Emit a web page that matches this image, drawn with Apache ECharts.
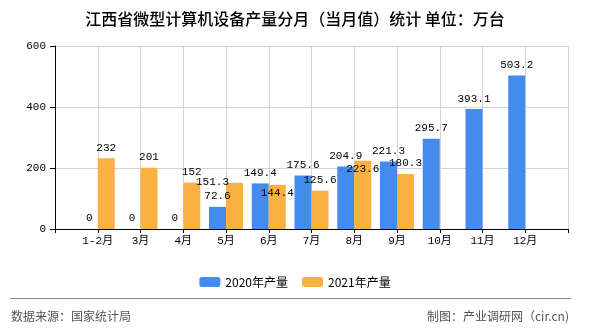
<!DOCTYPE html>
<html>
<head>
<meta charset="utf-8">
<script src="https://cdn.jsdelivr.net/npm/echarts@6/dist/echarts.min.js"></script>
<style>
html,body{margin:0;padding:0;background:#fff;}
#c{width:590px;height:330px;}
</style>
</head>
<body>
<div id="c"></div>
<script>
const titleText = '江西省微型计算机设备产量分月（当月值）统计 单位：万台';
const categories = ['1-2月','3月','4月','5月','6月','7月','8月','9月','10月','11月','12月'];
const series2020 = [0, 0, 0, 72.6, 149.4, 175.6, 204.9, 221.3, 295.7, 393.1, 503.2];
const series2021 = [232, 201, 152, 151.3, 144.4, 125.6, 223.6, 180.3, null, null, null];
const seriesNames = ['2020年产量', '2021年产量'];
const yTicks = [0, 200, 400, 600];
// label style tweaks (which labels were nudged in the original), kept apart from the data
const labelNudge2021 = {'5月': [-22, 10], '6月': [0, 19], '8月': [0, 19]};

const monoFont = '"Liberation Mono", "Noto Sans CJK SC", monospace';
const axisData = [''].concat(categories, ['']);
function pad(arr){ return [null].concat(arr, [null]); }
function build(arr, nudge){
  const p = pad(arr);
  return p.map((v, i) => {
    if (v === null) return {value: null, label: {show: false}};
    const cat = axisData[i];
    const item = {value: v};
    if (nudge && nudge[cat]) item.label = {offset: nudge[cat]};
    return item;
  });
}

const chart = echarts.init(document.getElementById('c'), null, {renderer: 'canvas'});
const labelCommon = {
  show: true, position: 'top', distance: 5,
  color: '#000', fontSize: 11, fontFamily: monoFont
};
chart.setOption({
  animation: false,
  backgroundColor: '#fff',
  title: {
    text: titleText, left: 'center', top: 6,
    textStyle: {fontSize: 16, fontWeight: 500, color: '#000', fontFamily: '"Noto Sans CJK SC", sans-serif'}
  },
  legend: {
    data: seriesNames, left: 'center', top: 271,
    itemWidth: 21, itemHeight: 10, itemGap: 14,
    textStyle: {fontSize: 12, color: '#000', fontFamily: '"Noto Sans CJK SC", sans-serif'}
  },
  grid: {left: 55, right: 22, top: 46, bottom: 101, containLabel: false},
  xAxis: {
    type: 'category', data: axisData, boundaryGap: false,
    axisLine: {lineStyle: {color: '#000', width: 1}},
    axisTick: {show: true, interval: 0, length: 4, lineStyle: {color: '#000'}},
    axisLabel: {interval: 0, color: '#000', fontSize: 11, margin: 7, fontFamily: monoFont},
    splitLine: {show: true, interval: 0, lineStyle: {color: '#d4d4d4', width: 1}}
  },
  yAxis: {
    type: 'value', min: yTicks[0], max: yTicks[yTicks.length - 1], interval: 200,
    axisLine: {show: true, lineStyle: {color: '#000', width: 1}},
    axisTick: {show: true, length: 5, lineStyle: {color: '#000'}},
    axisLabel: {color: '#000', fontSize: 11, margin: 9, fontFamily: monoFont},
    splitLine: {show: true, lineStyle: {color: '#d4d4d4', width: 1}}
  },
  series: [
    {
      name: seriesNames[0], type: 'bar', barWidth: 17, barGap: '0%',
      itemStyle: {color: '#448bee'},
      label: labelCommon,
      data: build(series2020, null)
    },
    {
      name: seriesNames[1], type: 'bar', barWidth: 17, barGap: '0%',
      itemStyle: {color: '#fbb141'},
      label: labelCommon,
      data: build(series2021, labelNudge2021)
    }
  ],
  graphic: [
    {type: 'line', shape: {x1: 10, y1: 298.5, x2: 571, y2: 298.5}, style: {stroke: '#888', lineWidth: 1}},
    {type: 'text', left: 11, top: 310, style: {text: '数据来源：国家统计局', fill: '#555', font: '12px "Noto Sans CJK SC", sans-serif'}},
    {type: 'text', right: 21, top: 310, style: {text: '制图：产业调研网（cir.cn)', fill: '#555', font: '12px "Noto Sans CJK SC", sans-serif'}}
  ]
});
</script>
</body>
</html>
